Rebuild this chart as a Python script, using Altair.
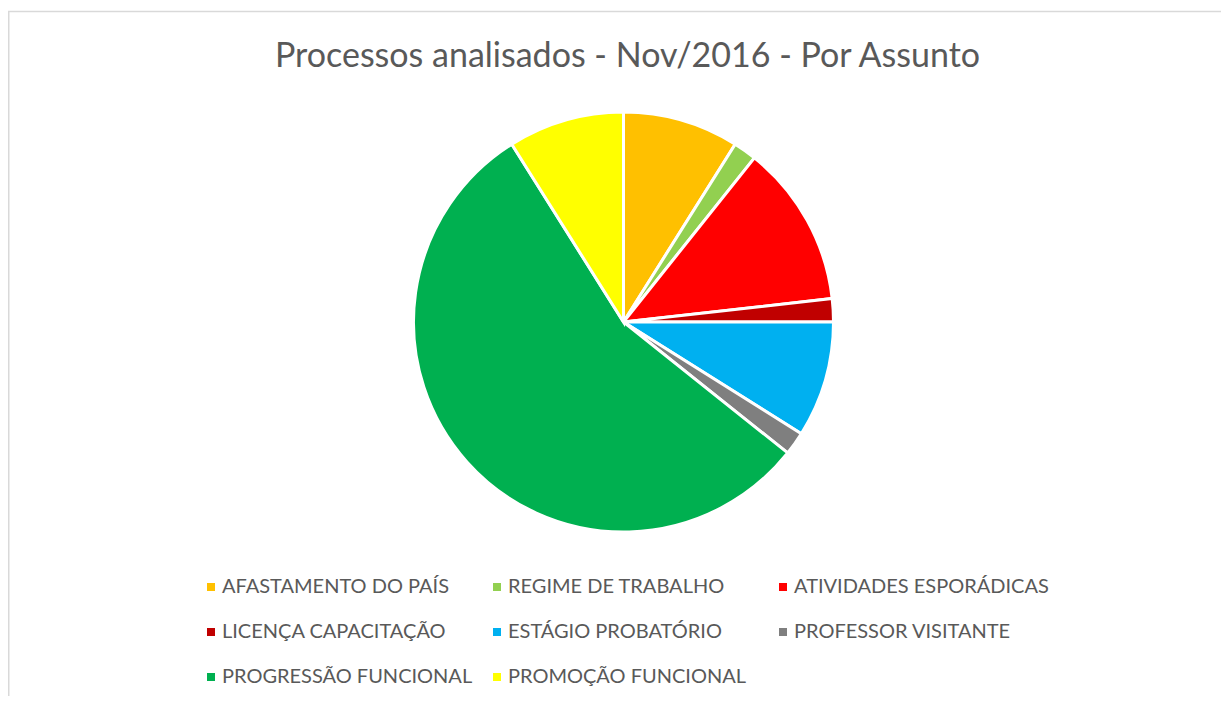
import altair as alt
import pandas as pd

categories = [
    "AFASTAMENTO DO PAÍS",
    "REGIME DE TRABALHO",
    "ATIVIDADES ESPORÁDICAS",
    "LICENÇA CAPACITAÇÃO",
    "ESTÁGIO PROBATÓRIO",
    "PROFESSOR VISITANTE",
    "PROGRESSÃO FUNCIONAL",
    "PROMOÇÃO FUNCIONAL",
]
values = [5, 1, 7, 1, 5, 1, 31, 5]
colors = ["#FFC000", "#92D050", "#FF0000", "#C00000", "#00B0F0", "#7F7F7F", "#00B050", "#FFFF00"]
order = list(range(len(categories)))

df = pd.DataFrame({"assunto": categories, "n": values, "ordem": order})

FONT = "Lato"
TEXT_COLOR = "#595959"
BORDER = "#D9D9D9"
W, H = 1213, 688

pie = (
    alt.Chart(df)
    .mark_arc(outerRadius=210, stroke="white", strokeWidth=3)
    .encode(
        theta=alt.Theta("n:Q", stack=True),
        order=alt.Order("ordem:Q"),
        color=alt.Color(
            "assunto:N",
            scale=alt.Scale(domain=categories, range=colors),
            legend=alt.Legend(
                title=None,
                orient="none",
                direction="horizontal",
                legendX=193,
                legendY=569,
                columns=3,
                gridAlign="all",
                symbolType="square",
                symbolSize=64,
                symbolStrokeWidth=0,
                labelFont=FONT,
                labelFontSize=20,
                labelColor=TEXT_COLOR,
                labelOffset=1,
                labelLimit=400,
                rowPadding=25,
                columnPadding=10,
            ),
        ),
        x=alt.value(615.5),
        y=alt.value(314),
        tooltip=["assunto:N", "n:Q"],
    )
)

frame_df = pd.DataFrame({"k": [0]})
top_border = alt.Chart(frame_df).mark_rule(color=BORDER, strokeWidth=1.5).encode(
    x=alt.value(0), x2=alt.value(W), y=alt.value(3.5)
)
left_border = alt.Chart(frame_df).mark_rule(color=BORDER, strokeWidth=1.5).encode(
    x=alt.value(0.75), y=alt.value(3.5), y2=alt.value(H)
)

chart = (
    alt.layer(top_border, left_border, pie)
    .properties(
        width=W,
        height=H,
        padding=0,
        autosize=alt.AutoSizeParams(type="none"),
        title=alt.TitleParams(
            "Processos analisados - Nov/2016 - Por Assunto",
            anchor="middle",
            font=FONT,
            fontSize=34,
            fontWeight="normal",
            color=TEXT_COLOR,
            dy=70,
            dx=13,
        ),
    )
    .configure_view(stroke=None)
)

chart.save("out.html", embed_options={"renderer": "svg", "actions": False})
